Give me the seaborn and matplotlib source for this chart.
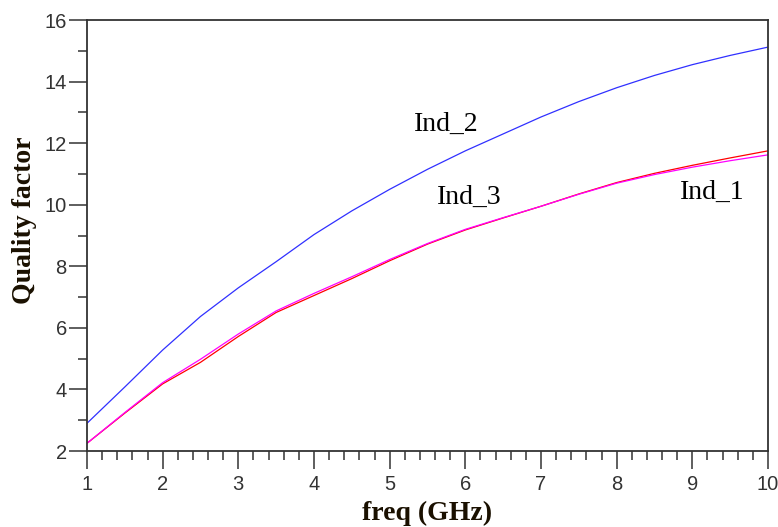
#!/usr/bin/env python3
import pandas as pd
import matplotlib
matplotlib.use("Agg")
import matplotlib.pyplot as plt
from matplotlib.ticker import MultipleLocator
import seaborn as sns

# Frequency sweep (GHz)
FREQ = [1, 1.5, 2, 2.5, 3, 3.5, 4, 4.5, 5, 5.5, 6, 6.5, 7, 7.5, 8, 8.5, 9, 9.5, 10]

# Quality factor of each inductor
IND_1 = [2.25, 3.23, 4.18, 4.88, 5.72, 6.50, 7.05, 7.60, 8.18, 8.72,
         9.18, 9.57, 9.95, 10.35, 10.72, 11.02, 11.28, 11.52, 11.75]
IND_2 = [2.90, 4.08, 5.28, 6.37, 7.30, 8.15, 9.03, 9.80, 10.50, 11.15,
         11.75, 12.30, 12.85, 13.35, 13.80, 14.20, 14.55, 14.85, 15.12]
IND_3 = [2.25, 3.25, 4.22, 4.98, 5.80, 6.55, 7.12, 7.66, 8.22, 8.74,
         9.20, 9.58, 9.95, 10.34, 10.70, 10.98, 11.22, 11.43, 11.62]

NAMES = ["Ind_1", "Ind_2", "Ind_3"]
COLORS = {"Ind_1": "#ff0000", "Ind_2": "#3030ff", "Ind_3": "#ff00ff"}

# Where the curve names sit (freq, Q)
LABEL_POS = {"Ind_2": (5.75, 12.6), "Ind_3": (6.05, 10.25), "Ind_1": (9.27, 10.4)}


def build_frame():
    """Long-form table for seaborn."""
    rows = []
    for name, vals in zip(NAMES, [IND_1, IND_2, IND_3]):
        for f, q in zip(FREQ, vals):
            rows.append({"freq": f, "Q": q, "inductor": name})
    return pd.DataFrame(rows)


def plot_quality(df):
    sns.set_style("white")
    plt.rcParams['font.family'] = ['Liberation Sans', 'DejaVu Sans']

    fig = plt.figure(figsize=(7.78, 5.27), dpi=100)
    ax = fig.add_axes([0.1118, 0.1442, 0.8753, 0.8178])

    sns.lineplot(data=df, x="freq", y="Q", hue="inductor", palette=COLORS,
                 linewidth=0.9, legend=False, ax=ax)

    ax.set_xlim(1, 10)
    ax.set_ylim(2, 16)
    ax.xaxis.set_major_locator(MultipleLocator(1))
    ax.xaxis.set_minor_locator(MultipleLocator(0.2))
    ax.yaxis.set_major_locator(MultipleLocator(2))
    ax.yaxis.set_minor_locator(MultipleLocator(1))

    ax.tick_params(which="major", direction="out", length=13, width=1.1,
                   color="#333333", labelsize=14.5, labelcolor="#333333")
    ax.tick_params(axis="x", which="major", pad=4)
    ax.tick_params(axis="y", which="major", pad=1.5)
    ax.tick_params(which="minor", direction="out", length=6.5, width=1.1,
                   color="#333333")
    ax.tick_params(bottom=True, left=True, top=False, right=False, which="both")

    for s in ax.spines.values():
        s.set_color("#333333")
        s.set_linewidth(1.3)

    serif = ['Liberation Serif', 'DejaVu Serif']
    ax.set_xlabel("freq (GHz)", fontsize=20, fontweight="bold",
                  family=serif, color="#1a1000", labelpad=5)
    ax.set_ylabel("Quality factor", fontsize=20, fontweight="bold",
                  family=serif, color="#1a1000")
    ax.yaxis.set_label_coords(-0.073, 0.536)

    for name, (x, y) in LABEL_POS.items():
        ax.text(x, y, name, fontsize=20, family=serif, color="black",
                ha="center", va="center")

    fig.savefig("out.png", dpi=100)


def main():
    df = build_frame()
    plot_quality(df)


if __name__ == "__main__":
    main()
